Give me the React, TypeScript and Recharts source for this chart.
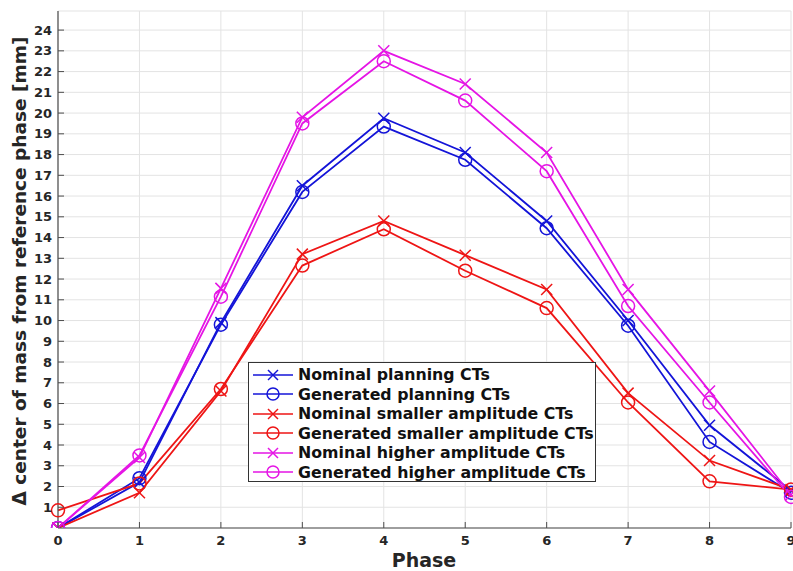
import React from "react";
import { LineChart, Line, XAxis, YAxis, CartesianGrid } from "recharts";

const phases = [0, 1, 2, 3, 4, 5, 6, 7, 8, 9];
const nominalPlanning = [0, 2.2, 9.9, 16.5, 19.75, 18.1, 14.8, 10.0, 4.95, 1.8];
const generatedPlanning = [0, 2.4, 9.8, 16.2, 19.35, 17.75, 14.45, 9.75, 4.15, 1.7];
const nominalSmaller = [0, 1.7, 6.6, 13.2, 14.8, 13.15, 11.5, 6.5, 3.25, 1.85];
const generatedSmaller = [0.85, 2.15, 6.7, 12.65, 14.4, 12.4, 10.6, 6.05, 2.25, 1.85];
const nominalHigher = [0, 3.4, 11.55, 19.8, 23.0, 21.4, 18.1, 11.5, 6.6, 1.6];
const generatedHigher = [0, 3.5, 11.15, 19.5, 22.5, 20.6, 17.2, 10.7, 6.05, 1.5];

const xTicks = [0, 1, 2, 3, 4, 5, 6, 7, 8, 9];
const yTicks = [1, 2, 3, 4, 5, 6, 7, 8, 9, 10, 11, 12, 13, 14, 15, 16, 17, 18, 19, 20, 21, 22, 23, 24];

const BLUE = "#1414d8";
const RED = "#ee1515";
const MAGENTA = "#e515e5";

const seriesDefs = [
  { key: "np", name: "Nominal planning CTs", values: nominalPlanning, color: BLUE, marker: "x" },
  { key: "gp", name: "Generated planning CTs", values: generatedPlanning, color: BLUE, marker: "o" },
  { key: "ns", name: "Nominal smaller amplitude CTs", values: nominalSmaller, color: RED, marker: "x" },
  { key: "gs", name: "Generated smaller amplitude CTs", values: generatedSmaller, color: RED, marker: "o" },
  { key: "nh", name: "Nominal higher amplitude CTs", values: nominalHigher, color: MAGENTA, marker: "x" },
  { key: "gh", name: "Generated higher amplitude CTs", values: generatedHigher, color: MAGENTA, marker: "o" },
];

const data = phases.map((p, i) => {
  const row: Record<string, number> = { phase: p };
  seriesDefs.forEach((s) => {
    row[s.key] = s.values[i];
  });
  return row;
});

const FONT = "'DejaVu Sans', sans-serif";
const TEXT = "#262626";
const AXIS = "#4d4d4d";

const makeDot = (marker: string, color: string) => (props: any) => {
  const { cx, cy, index } = props;
  if (cx == null || cy == null) return <g key={index} />;
  if (marker === "x") {
    const s = 5.5;
    return (
      <g key={index}>
        <line x1={cx - s} y1={cy - s} x2={cx + s} y2={cy + s} stroke={color} strokeWidth={1.5} />
        <line x1={cx - s} y1={cy + s} x2={cx + s} y2={cy - s} stroke={color} strokeWidth={1.5} />
      </g>
    );
  }
  return <circle key={index} cx={cx} cy={cy} r={6.5} fill="none" stroke={color} strokeWidth={1.5} />;
};

const XTick = (props: any) => {
  const { x, y, payload } = props;
  return (
    <g>
      <line x1={x} y1={y} x2={x} y2={y - 6} stroke={AXIS} strokeWidth={1} />
      <text x={x} y={y + 17} textAnchor="middle" fontFamily={FONT} fontWeight="bold" fontSize={13} fill={TEXT}>
        {payload.value}
      </text>
    </g>
  );
};

const XTopTick = (props: any) => {
  const { x, y } = props;
  return <line x1={x} y1={y} x2={x} y2={y + 6} stroke={AXIS} strokeWidth={1} />;
};

const YTick = (props: any) => {
  const { x, y, payload } = props;
  return (
    <g>
      <line x1={x} y1={y} x2={x + 6} y2={y} stroke={AXIS} strokeWidth={1} />
      <text x={x - 6} y={y + 4.5} textAnchor="end" fontFamily={FONT} fontWeight="bold" fontSize={13} fill={TEXT}>
        {payload.value}
      </text>
    </g>
  );
};

const YRightTick = (props: any) => {
  const { x, y } = props;
  return <line x1={x} y1={y} x2={x - 6} y2={y} stroke={AXIS} strokeWidth={1} />;
};

const LegendIcon = ({ marker, color }: { marker: string; color: string }) => (
  <svg width={42} height={14} style={{ display: "block" }}>
    <line x1={1} y1={7} x2={41} y2={7} stroke={color} strokeWidth={1.5} />
    {marker === "x" ? (
      <g>
        <line x1={16} y1={2} x2={26} y2={12} stroke={color} strokeWidth={1.5} />
        <line x1={16} y1={12} x2={26} y2={2} stroke={color} strokeWidth={1.5} />
      </g>
    ) : (
      <circle cx={21} cy={7} r={6} fill="none" stroke={color} strokeWidth={1.5} />
    )}
  </svg>
);

export default function App() {
  return (
    <div style={{ position: "absolute", left: 0, top: 0, width: 793, height: 571, background: "#fff" }}>
      <LineChart width={793} height={571} data={data} margin={{ top: 11, right: 2, bottom: 0, left: 0 }}>
        <CartesianGrid stroke="#e3e3e3" strokeWidth={1} vertical={true} horizontal={true} />
        <XAxis
          dataKey="phase"
          type="number"
          domain={[0, 9]}
          ticks={xTicks}
          height={43}
          tickLine={false}
          tickSize={0}
          tickMargin={0}
          tick={<XTick />}
          axisLine={{ stroke: AXIS, strokeWidth: 1.2 }}
          interval={0}
        />
        <XAxis
          xAxisId="top"
          orientation="top"
          dataKey="phase"
          type="number"
          domain={[0, 9]}
          ticks={xTicks}
          height={0}
          tickLine={false}
          tickSize={0}
          tickMargin={0}
          tick={<XTopTick />}
          axisLine={{ stroke: AXIS, strokeWidth: 1.2 }}
          interval={0}
        />
        <YAxis
          type="number"
          domain={[0, 24.92]}
          ticks={yTicks}
          width={58}
          tickLine={false}
          tickSize={0}
          tickMargin={0}
          tick={<YTick />}
          axisLine={{ stroke: AXIS, strokeWidth: 1.2 }}
          interval={0}
          allowDataOverflow
        />
        <YAxis
          yAxisId="right"
          orientation="right"
          type="number"
          domain={[0, 24.92]}
          ticks={yTicks}
          width={0}
          tickLine={false}
          tickSize={0}
          tickMargin={0}
          tick={<YRightTick />}
          axisLine={{ stroke: AXIS, strokeWidth: 1.2 }}
          interval={0}
          allowDataOverflow
        />
        {seriesDefs.map((s) => (
          <Line
            key={s.key}
            dataKey={s.key}
            name={s.name}
            stroke={s.color}
            strokeWidth={1.8}
            dot={makeDot(s.marker, s.color)}
            activeDot={false}
            isAnimationActive={false}
            type="linear"
          />
        ))}
      </LineChart>
      <svg
        width={793}
        height={571}
        style={{ position: "absolute", left: 0, top: 0, pointerEvents: "none" }}
      >
        <text x={424} y={567} textAnchor="middle" fontFamily={FONT} fontWeight="bold" fontSize={19} fill={TEXT}>
          Phase
        </text>
        <text
          x={26}
          y={271}
          transform="rotate(-90, 26, 271)"
          textAnchor="middle"
          fontFamily={FONT}
          fontWeight="bold"
          fontSize={18.5}
          fill={TEXT}
        >
          Δ center of mass from reference phase [mm]
        </text>
      </svg>
      <div
        style={{
          position: "absolute",
          left: 248,
          top: 362,
          boxSizing: "border-box",
          width: 348,
          height: 120,
          border: "1px solid #333",
          background: "#fff",
          padding: "2px 0 0 3px",
        }}
      >
        {seriesDefs.map((s) => (
          <div key={s.key} style={{ display: "flex", alignItems: "center", height: 19.5 }}>
            <LegendIcon marker={s.marker} color={s.color} />
            <span
              style={{
                marginLeft: 4,
                fontFamily: FONT,
                fontWeight: "bold",
                fontSize: 15.8,
                color: "#111",
                whiteSpace: "nowrap",
                lineHeight: "19px",
              }}
            >
              {s.name}
            </span>
          </div>
        ))}
      </div>
    </div>
  );
}
